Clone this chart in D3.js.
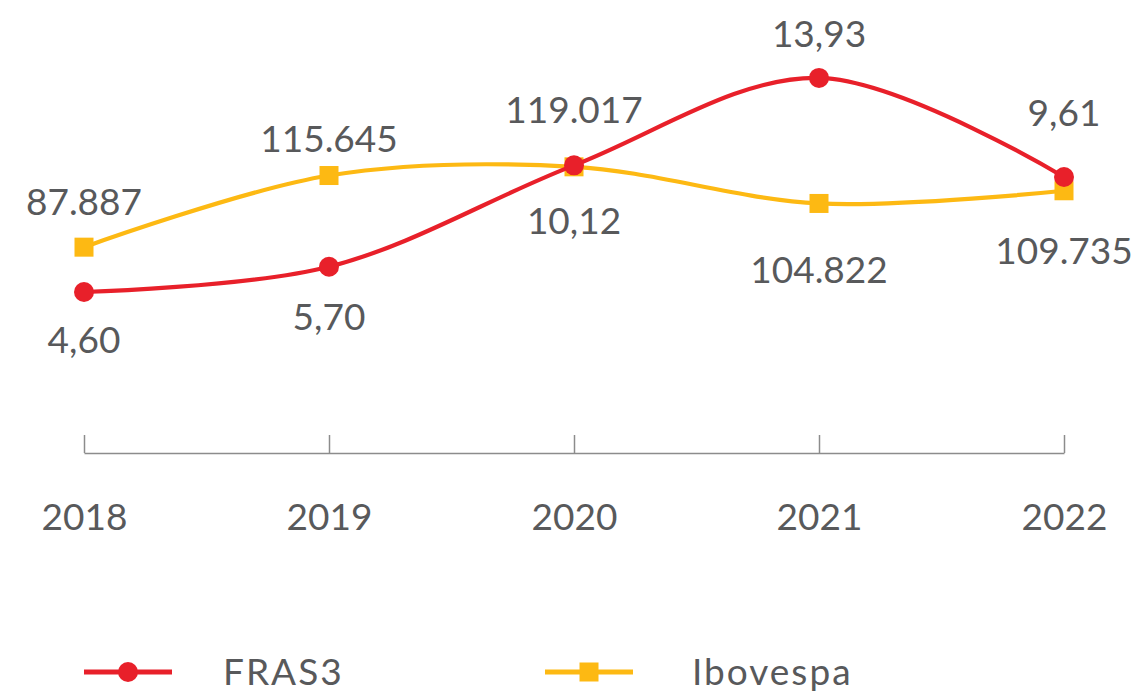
<!DOCTYPE html>
<html>
<head>
<meta charset="utf-8">
<script src="https://cdn.jsdelivr.net/npm/d3@7"></script>
<style>
  html, body { margin: 0; padding: 0; background: #ffffff; }
  svg { display: block; }
</style>
</head>
<body>
<svg id="chart" width="1134" height="693"></svg>
<script>
// ---- data ----
const years = ["2018", "2019", "2020", "2021", "2022"];
const fras3 = [4.60, 5.70, 10.12, 13.93, 9.61];
const ibovespa = [87887, 115645, 119017, 104822, 109735];
const fras3Labels = ["4,60", "5,70", "10,12", "13,93", "9,61"];
const ibovespaLabels = ["87.887", "115.645", "119.017", "104.822", "109.735"];
const seriesNames = ["FRAS3", "Ibovespa"];

// ---- layout (label placement relative to each marker) ----
const fras3LabelDy = [61, 63, 69, -31, -51];
const ibovLabelDy = [-32, -24, -44, 80, 73];

const RED = "#e8202a";
const YELLOW = "#fdb913";
const TEXT = "#58595b";
const AXIS = "#8c8c8c";
const FONT = "Lato, 'Open Sans', sans-serif";

const svg = d3.select("#chart");

const x = d3.scalePoint().domain(years).range([84, 1064]);
const axisY = 453;

// two independent vertical scales (dual axis chart)
const y1 = d3.scaleLinear().domain([0, 16]).range([397.5, 397.5 - 16 * 22.94]);
const y2 = d3.scaleLinear().domain([0, 140000]).range([474, 474 - 140 * 2.581]);

// axis
const axis = d3.axisBottom(x).tickSizeInner(-18).tickSizeOuter(0).tickPadding(0);
const gAxis = svg.append("g").attr("transform", `translate(0,${axisY})`).call(axis);
gAxis.select(".domain").attr("stroke", AXIS).attr("stroke-width", 1.5);
gAxis.selectAll(".tick line").attr("stroke", AXIS).attr("stroke-width", 1.5);
gAxis.selectAll(".tick text")
  .attr("y", 77).attr("dy", null)
  .attr("fill", TEXT)
  .style("font-family", FONT)
  .style("font-size", "37px");

const curve = d3.curveCatmullRom.alpha(0.5);

const ibData = years.map((yr, i) => ({ yr, v: ibovespa[i], label: ibovespaLabels[i], dy: ibovLabelDy[i] }));
const frData = years.map((yr, i) => ({ yr, v: fras3[i], label: fras3Labels[i], dy: fras3LabelDy[i] }));

// Ibovespa line (drawn first, underneath)
svg.append("path")
  .datum(ibData)
  .attr("fill", "none")
  .attr("stroke", YELLOW)
  .attr("stroke-width", 4.2)
  .attr("d", d3.line().x(d => x(d.yr)).y(d => y2(d.v)).curve(curve));

svg.append("g").selectAll("rect")
  .data(ibData).join("rect")
  .attr("x", d => x(d.yr) - 9.5)
  .attr("y", d => y2(d.v) - 9.5)
  .attr("width", 19).attr("height", 19)
  .attr("fill", YELLOW);

svg.append("path")
  .datum(frData)
  .attr("fill", "none")
  .attr("stroke", RED)
  .attr("stroke-width", 4.2)
  .attr("d", d3.line().x(d => x(d.yr)).y(d => y1(d.v)).curve(curve));

svg.append("g").selectAll("circle")
  .data(frData).join("circle")
  .attr("cx", d => x(d.yr))
  .attr("cy", d => y1(d.v))
  .attr("r", 10)
  .attr("fill", RED);

// value labels
const labelStyle = sel => sel
  .attr("text-anchor", "middle")
  .attr("fill", TEXT)
  .style("font-family", FONT)
  .style("font-size", "37px");

svg.append("g").selectAll("text")
  .data(ibData).join("text")
  .attr("x", d => x(d.yr))
  .attr("y", d => y2(d.v) + d.dy)
  .text(d => d.label)
  .call(labelStyle);

svg.append("g").selectAll("text")
  .data(frData).join("text")
  .attr("x", d => x(d.yr))
  .attr("y", d => y1(d.v) + d.dy)
  .text(d => d.label)
  .call(labelStyle);

// legend
const legendY = 672;
const legend = svg.append("g");
const legItems = [
  { name: seriesNames[0], color: RED, shape: "circle", x0: 84, tx: 223 },
  { name: seriesNames[1], color: YELLOW, shape: "square", x0: 545, tx: 692 }
];
legItems.forEach(it => {
  const g = legend.append("g");
  g.append("line")
    .attr("x1", it.x0).attr("x2", it.x0 + 88)
    .attr("y1", legendY).attr("y2", legendY)
    .attr("stroke", it.color).attr("stroke-width", 5);
  if (it.shape === "circle") {
    g.append("circle").attr("cx", it.x0 + 44).attr("cy", legendY).attr("r", 10).attr("fill", it.color);
  } else {
    g.append("rect").attr("x", it.x0 + 44 - 9.5).attr("y", legendY - 9.5)
      .attr("width", 19).attr("height", 19).attr("fill", it.color);
  }
  g.append("text")
    .attr("x", it.tx).attr("y", 685)
    .attr("fill", TEXT)
    .style("font-family", FONT)
    .style("font-size", "37px")
    .style("letter-spacing", "2px")
    .text(it.name);
});
</script>
</body>
</html>
